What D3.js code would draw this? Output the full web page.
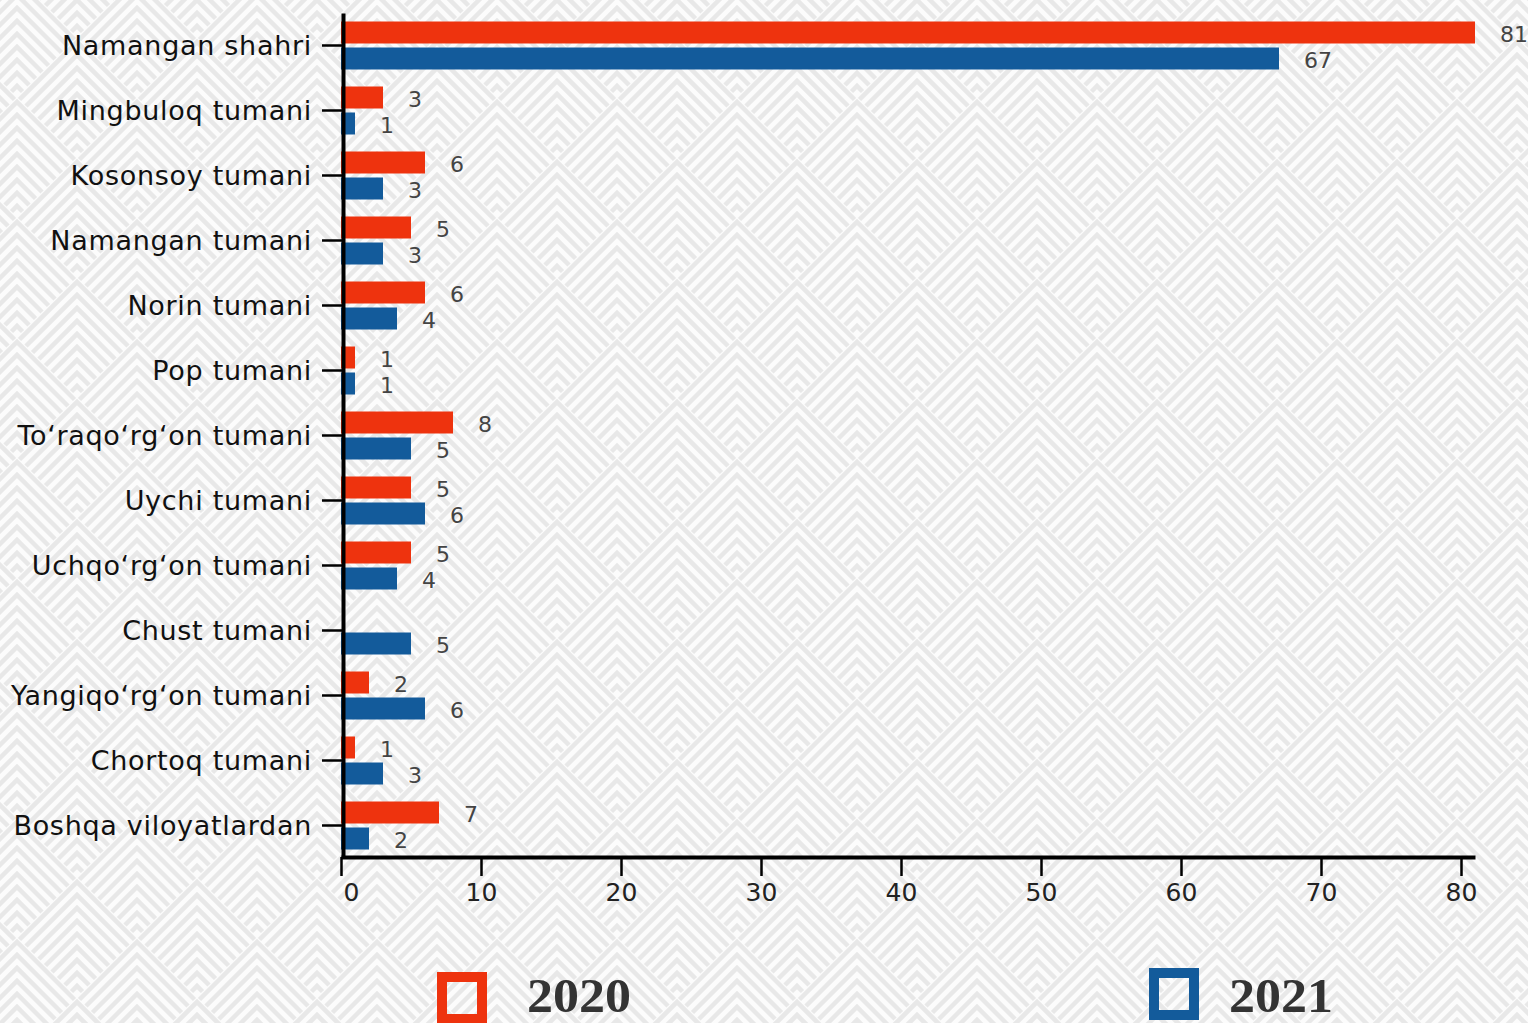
<!DOCTYPE html>
<html>
<head>
<meta charset="utf-8">
<script src="https://d3js.org/d3.v7.min.js"></script>
<style>
    body { margin: 0; background: #fff; }
    svg { display: block; }
    .cat text { font-family: "DejaVu Sans", sans-serif; font-size: 27px; letter-spacing: 0.7px; fill: #111; }
    .xax text { font-family: "DejaVu Sans", sans-serif; font-size: 25px; fill: #222; }
    .val { font-family: "DejaVu Sans", sans-serif; font-size: 22px; fill: #444; }
    .legend text { font-family: "Liberation Serif", serif; font-weight: bold; font-size: 48px; fill: #333; }
</style>
</head>
<body>
<svg width="1528" height="1023"></svg>
<script>
    // data
    var categories = [
        'Namangan shahri', 'Mingbuloq tumani', 'Kosonsoy tumani', 'Namangan tumani',
        'Norin tumani', 'Pop tumani', 'To‘raqo‘rg‘on tumani', 'Uychi tumani',
        'Uchqo‘rg‘on tumani', 'Chust tumani', 'Yangiqo‘rg‘on tumani', 'Chortoq tumani',
        'Boshqa viloyatlardan'
    ];
    var years = ['2020', '2021'];
    var values2020 = [81, 3, 6, 5, 6, 1, 8, 5, 5, null, 2, 1, 7];
    var values2021 = [67, 1, 3, 3, 4, 1, 5, 6, 4, 5, 6, 3, 2];
    var xTicks = [0, 10, 20, 30, 40, 50, 60, 70, 80];
    var colors = { '2020': '#ee330e', '2021': '#135b9b' };

    var svg = d3.select('svg');

    // background: nested chevrons inside a diamond tiling
    var defs = svg.append('defs');
    var pat = defs.append('pattern')
        .attr('id', 'bg')
        .attr('patternUnits', 'userSpaceOnUse')
        .attr('width', 120)
        .attr('height', 120)
        .attr('x', -43)
        .attr('y', -23);
    pat.append('rect').attr('width', 120).attr('height', 120).attr('fill', '#fcfcfc');
    var centers = [[60, 60], [0, 0], [120, 0], [0, 120], [120, 120]];
    centers.forEach(function(c) {
        for (var a = 5; a < 112; a += 13) {
            var cx = c[0], cy = c[1];
            pat.append('polyline')
                .attr('points', [
                    [cx - 60 + a / 2, cy + a / 2],
                    [cx, cy - 60 + a],
                    [cx + 60 - a / 2, cy + a / 2]
                ].map(function(p) { return p.join(','); }).join(' '))
                .attr('fill', 'none')
                .attr('stroke', '#e8e8e8')
                .attr('stroke-width', 4.5);
        }
    });
    svg.append('rect').attr('width', 1528).attr('height', 1023).attr('fill', 'url(#bg)');

    var rows = categories.map(function(c, i) {
        return { cat: c, '2020': values2020[i], '2021': values2021[i] };
    });

    var x = d3.scaleLinear()
        .domain([0, 81])
        .range([341, 1475]);
    var y = d3.scaleBand()
        .domain(categories)
        .range([13, 858]);
    var yIn = d3.scaleBand()
        .domain(years)
        .range([8.5, 56.5])
        .paddingInner(4 / 26);

    // bars
    var groups = svg.selectAll('g.row')
        .data(rows)
        .enter()
        .append('g')
        .classed('row', true)
        .attr('transform', function(d) { return 'translate(0,' + y(d.cat) + ')'; });

    years.forEach(function(yr) {
        var sel = groups.filter(function(d) { return d[yr] != null; });
        sel.append('rect')
            .attr('x', x(0))
            .attr('y', yIn(yr))
            .attr('width', function(d) { return x(d[yr]) - x(0); })
            .attr('height', yIn.bandwidth())
            .attr('fill', colors[yr]);
        sel.append('text')
            .classed('val', true)
            .attr('x', function(d) { return x(d[yr]) + 25; })
            .attr('y', yIn(yr) + yIn.bandwidth() / 2 + 3)
            .attr('dominant-baseline', 'middle')
            .text(function(d) { return d[yr]; });
    });

    // axes
    var yAxis = svg.append('g')
        .classed('cat', true)
        .attr('transform', 'translate(343,0)')
        .call(d3.axisLeft(y).tickSize(21).tickSizeOuter(0).tickPadding(10));
    yAxis.select('.domain').attr('stroke', '#000').attr('stroke-width', 4);
    yAxis.selectAll('.tick line').attr('stroke', '#000').attr('stroke-width', 2.5);
    yAxis.selectAll('.tick text').attr('fill', null).attr('dy', '0.36em');

    var xAxis = svg.append('g')
        .classed('xax', true)
        .attr('transform', 'translate(0,857)')
        .call(d3.axisBottom(x).tickValues(xTicks).tickSize(19).tickSizeOuter(0).tickPadding(7));
    xAxis.select('.domain').attr('stroke', '#000').attr('stroke-width', 4);
    xAxis.selectAll('.tick line').attr('stroke', '#000').attr('stroke-width', 2.5);
    xAxis.selectAll('.tick text').attr('fill', null);
    // the zero label sits just right of its tick
    xAxis.selectAll('.tick text')
        .filter(function(d) { return d === 0; })
        .attr('text-anchor', 'start')
        .attr('x', 2);
    svg.selectAll('.cat, .xax').attr('font-size', null).attr('font-family', null);

    // legend
    var legendPos = { '2020': [442, 977], '2021': [1154, 973] };
    var legendGap = { '2020': 85, '2021': 75 };
    var legend = svg.selectAll('g.legend')
        .data(years)
        .enter()
        .append('g')
        .classed('legend', true)
        .attr('transform', function(d) { return 'translate(' + legendPos[d][0] + ',' + legendPos[d][1] + ')'; });
    legend.append('rect')
        .attr('width', 40)
        .attr('height', 42)
        .attr('fill', 'none')
        .attr('stroke', function(d) { return colors[d]; })
        .attr('stroke-width', 10);
    legend.append('text')
        .attr('x', function(d) { return legendGap[d]; })
        .attr('y', function(d) { return 1012 - legendPos[d][1]; })
        .attr('textLength', 104)
        .attr('lengthAdjust', 'spacingAndGlyphs')
        .text(function(d) { return d; });
</script>
</body>
</html>
